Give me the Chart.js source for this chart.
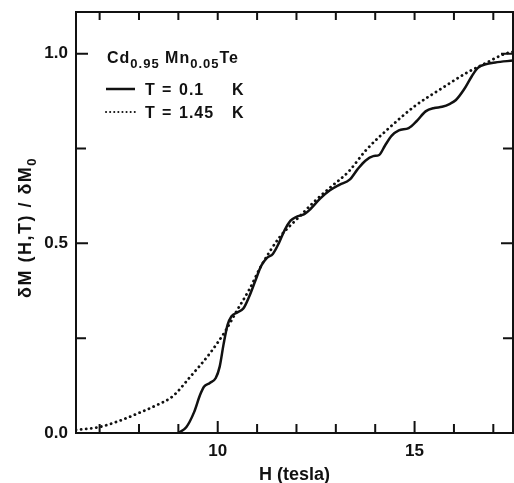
<!DOCTYPE html>
<html>
<head>
<meta charset="utf-8">
<script src="https://cdn.jsdelivr.net/npm/chart.js@4"></script>
<style>
  body { margin: 0; background: #fff; }
  #wrap { width: 514px; height: 483px; }
</style>
</head>
<body>
<div id="wrap"><canvas id="chart" width="514" height="483"></canvas></div>
<script>
// T = 0.1 K (solid)
const hCold = [9.0, 9.2, 9.4, 9.55, 9.65, 9.8, 9.95, 10.05, 10.15, 10.25, 10.35, 10.5, 10.65, 10.8, 10.95,
  11.1, 11.25, 11.4, 11.55, 11.7, 11.85, 12.0, 12.2, 12.35, 12.6, 12.85, 13.1, 13.35, 13.55, 13.75,
  13.95, 14.1, 14.25, 14.42, 14.6, 14.85, 15.05, 15.28, 15.5, 15.7, 15.9, 16.05, 16.25, 16.45, 16.6,
  16.8, 17.05, 17.5];
const mCold = [0, 0.015, 0.055, 0.1, 0.122, 0.132, 0.145, 0.175, 0.235, 0.285, 0.308, 0.318, 0.328, 0.36, 0.40,
  0.44, 0.462, 0.472, 0.5, 0.535, 0.56, 0.57, 0.577, 0.59, 0.618, 0.64, 0.655, 0.668, 0.695, 0.718,
  0.73, 0.733, 0.758, 0.784, 0.798, 0.804, 0.822, 0.848, 0.857, 0.86, 0.868, 0.878, 0.905, 0.94, 0.962,
  0.972, 0.977, 0.982];

// T = 1.45 K (dotted)
const hWarm = [6.4, 7.0, 7.5, 8.0, 8.5, 8.86, 9.3, 9.8, 10.2, 10.5, 10.8, 11.1, 11.57, 12.07, 12.45,
  12.83, 13.33, 13.76, 14.34, 15.02, 15.68, 16.28, 16.8, 17.3, 17.5];
const mWarm = [0.008, 0.016, 0.032, 0.053, 0.076, 0.097, 0.148, 0.21, 0.27, 0.325, 0.378, 0.44, 0.516, 0.57, 0.61,
  0.645, 0.69, 0.745, 0.803, 0.863, 0.908, 0.947, 0.975, 1.0, 1.005];

const xTicks = [7, 8, 9, 10, 11, 12, 13, 14, 15, 16, 17];
const xLabels = [10, 15];
const yTicks = [0, 0.25, 0.5, 0.75, 1.0];
const yLabels = [0, 0.5, 1.0];
const legendTemps = ["0.1", "1.45"];

const FONT = "Liberation Sans";

function toPoints(xs, ys) {
  return xs.map((x, i) => ({ x: x, y: ys[i] }));
}

// frame, inward ticks, y title and the legend block
const framePlugin = {
  id: "frame",
  afterDraw(chart) {
    const { ctx, chartArea: a, scales } = chart;
    ctx.save();
    ctx.strokeStyle = "#111";
    ctx.lineWidth = 2;
    ctx.strokeRect(a.left, a.top, a.right - a.left, a.bottom - a.top);

    ctx.beginPath();
    xTicks.forEach(v => {
      const px = scales.x.getPixelForValue(v);
      const len = xLabels.includes(v) ? 12 : 9;
      ctx.moveTo(px, a.bottom); ctx.lineTo(px, a.bottom - len);
      ctx.moveTo(px, a.top); ctx.lineTo(px, a.top + 8);
    });
    yTicks.forEach(v => {
      const py = scales.y.getPixelForValue(v);
      const len = yLabels.includes(v) ? 12 : 10;
      ctx.moveTo(a.left, py); ctx.lineTo(a.left + len, py);
      ctx.moveTo(a.right, py); ctx.lineTo(a.right - len, py);
    });
    ctx.stroke();

    ctx.fillStyle = "#111";
    ctx.textBaseline = "alphabetic";

    // y axis title, rotated, with subscript 0
    ctx.save();
    ctx.translate(31, 298);
    ctx.rotate(-Math.PI / 2);
    ctx.letterSpacing = "1.5px";
    ctx.font = "bold 18px " + FONT;
    ctx.fillText("δM (H,T) / δM", 0, 0);
    const w = ctx.measureText("δM (H,T) / δM").width;
    ctx.font = "bold 13px " + FONT;
    ctx.fillText("0", w, 5);
    ctx.restore();

    // title of the sample
    ctx.save();
    ctx.letterSpacing = "1px";
    let x = 107;
    const parts = [["Cd", 0], ["0.95", 1], [" Mn", 0], ["0.05", 1], ["Te", 0]];
    parts.forEach(([txt, sub]) => {
      ctx.font = sub ? "bold 13px " + FONT : "bold 16px " + FONT;
      ctx.fillText(txt, x, sub ? 68 : 63);
      x += ctx.measureText(txt).width;
    });
    ctx.restore();

    // legend rows
    ctx.font = "bold 16px " + FONT;
    ctx.lineWidth = 2.5;
    ctx.beginPath();
    ctx.moveTo(106, 89); ctx.lineTo(135, 89);
    ctx.stroke();

    ctx.lineWidth = 2;
    ctx.lineCap = "round";
    ctx.setLineDash([0.1, 4]);
    ctx.beginPath();
    ctx.moveTo(106, 112); ctx.lineTo(135, 112);
    ctx.stroke();
    ctx.setLineDash([]);

    legendTemps.forEach((t, i) => {
      const by = 95 + i * 23;
      ctx.letterSpacing = "1px";
      ctx.fillText("T", 145, by);
      ctx.fillText("=", 162, by);
      ctx.fillText(t, 179, by);
      ctx.fillText("K", 232, by);
    });
    ctx.restore();
  }
};

new Chart(document.getElementById("chart"), {
  type: "scatter",
  data: {
    datasets: [
      {
        label: "T = 0.1 K",
        data: toPoints(hCold, mCold),
        showLine: true,
        borderColor: "#111",
        borderWidth: 2.5,
        pointRadius: 0,
        cubicInterpolationMode: "monotone"
      },
      {
        label: "T = 1.45 K",
        data: toPoints(hWarm, mWarm),
        showLine: true,
        borderColor: "#111",
        borderWidth: 2.8,
        borderDash: [0.1, 5],
        borderCapStyle: "round",
        pointRadius: 0,
        cubicInterpolationMode: "monotone"
      }
    ]
  },
  options: {
    responsive: false,
    animation: false,
    layout: { padding: { top: 12, right: 1, left: 0, bottom: 0 } },
    plugins: {
      legend: { display: false },
      tooltip: { enabled: false }
    },
    scales: {
      x: {
        type: "linear",
        min: 6.4,
        max: 17.5,
        afterBuildTicks: scale => { scale.ticks = xTicks.map(v => ({ value: v })); },
        afterFit: scale => { scale.height = 50; },
        grid: { display: false, drawTicks: false, tickLength: 0 },
        border: { display: false },
        ticks: {
          padding: 8,
          color: "#111",
          font: { family: FONT, size: 17, weight: "bold" },
          maxRotation: 0,
          autoSkip: false,
          callback: v => (xLabels.includes(v) ? String(v) : "")
        },
        title: {
          display: true,
          text: "H (tesla)",
          color: "#111",
          font: { family: FONT, size: 18, weight: "bold" },
          padding: { top: 2, bottom: -3 }
        }
      },
      y: {
        min: 0,
        max: 1.11,
        afterBuildTicks: scale => { scale.ticks = yTicks.map(v => ({ value: v })); },
        afterFit: scale => {
          scale.width = 76;
          scale.paddingTop = 0;
          scale.paddingBottom = 0;
        },
        grid: { display: false, drawTicks: false, tickLength: 0 },
        border: { display: false },
        ticks: {
          padding: 8,
          color: "#111",
          font: { family: FONT, size: 17, weight: "bold" },
          autoSkip: false,
          callback: v => (yLabels.includes(v) ? v.toFixed(1) : "")
        }
      }
    }
  },
  plugins: [framePlugin]
});
</script>
</body>
</html>
